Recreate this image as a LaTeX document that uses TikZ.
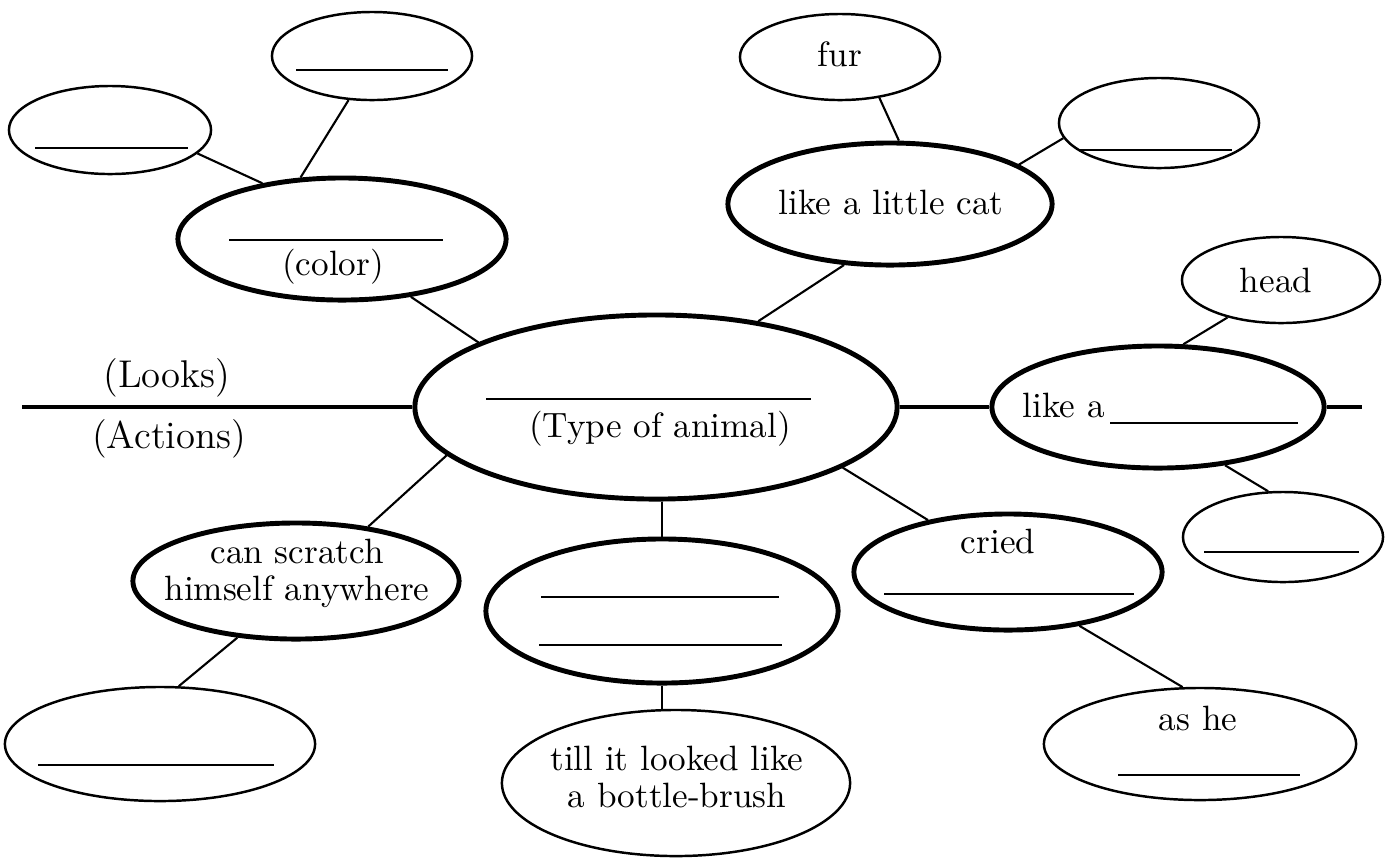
\documentclass[tikz,border=0pt]{standalone}
\usetikzlibrary{shapes.geometric,positioning}

\begin{document}
\begin{tikzpicture}[x=0.01cm,y=-0.01cm,
    bubble/.style={ellipse, draw, line width=0.7pt, inner sep=0pt},
    bold bubble/.style={bubble, line width=1.4pt},
    wh/.style 2 args={minimum width=#1cm, minimum height=#2cm},
    link/.style={line width=0.6pt},
    blank/.style={line width=0.7pt},
    divider/.style={line width=1.4pt},
    words/.style={font=\fontsize{10}{10.5}\selectfont, align=center, inner sep=0pt, anchor=base},
    side/.style={font=\fontsize{11}{13}\selectfont, inner sep=0pt, anchor=base}]
    \useasboundingbox (0,0) rectangle (1388,859);

    \node[bold bubble, wh={4.82}{1.84}] (animal) at (656,407) {};
    \node[bold bubble, wh={3.28}{1.22}] (col) at (342,239) {};
    \node[bold bubble, wh={3.24}{1.22}] (cat) at (890,204) {};
    \node[bold bubble, wh={3.32}{1.22}] (likea) at (1158,407) {};
    \node[bold bubble, wh={3.08}{1.16}] (cried) at (1008,572) {};
    \node[bold bubble, wh={3.52}{1.44}] (midb) at (662,611) {};
    \node[bold bubble, wh={3.26}{1.16}] (scratch) at (296,581) {};
    \node[bubble, wh={2.00}{0.88}] (tlb) at (372,56) {};
    \node[bubble, wh={2.02}{0.88}] (lb) at (110,130) {};
    \node[bubble, wh={2.00}{0.86}] (fur) at (840,57) {};
    \node[bubble, wh={2.00}{0.90}] (trb) at (1159,123) {};
    \node[bubble, wh={1.98}{0.86}] (head) at (1281,280) {};
    \node[bubble, wh={2.00}{0.90}] (brb) at (1283,537) {};
    \node[bubble, wh={3.12}{1.12}] (ashe) at (1200,744) {};
    \node[bubble, wh={3.48}{1.46}] (till) at (676,783) {};
    \node[bubble, wh={3.10}{1.14}] (blb) at (160,744) {};

    \coordinate (lend) at (22,407);
    \coordinate (rend) at (1362,407);
    \draw[divider] (lend) -- (animal.west);
    \draw[divider] (animal.east) -- (likea.west);
    \draw[divider] (likea.east) -- (rend);
    \node[side] (looks) at (167,387) {(Looks)};
    \node[side] (actions) at (169,448) {(Actions)};

    \draw[link] (tlb.242) -- (col.124);
    \draw[link] (lb.345) -- (col.145);
    \draw[link] (col.320) -- (animal.160);
    \draw[link] (animal.40) -- (cat.233);
    \draw[link] (cat.82) -- (fur.314);
    \draw[link] (cat.17) -- (trb.189);
    \draw[link] (likea.68) -- (head.215);
    \draw[link] (likea.319) -- (brb.108);
    \draw[link] (animal.342) -- (cried.147);
    \draw[link] (cried.323) -- (ashe.107);
    \draw[link] (midb.north |- animal.south) -- (midb.north);
    \draw[link] (midb.south) -- (midb.south |- till.north);
    \draw[link] (animal.193) -- (scratch.37);
    \draw[link] (scratch.224) -- (blb.72);

    \draw[blank] (486,399) -- (811,399);
    \node[words] (animaltxt) at (660,437) {(Type of animal)};
    \draw[blank] (229,240) -- (443,240);
    \node[words] (coltxt) at (333,275) {(color)};
    \draw[blank] (296,70) -- (448,70);
    \draw[blank] (35,148) -- (188,148);
    \node[words] (furtxt) at (840,66) {fur};
    \draw[blank] (1080,150) -- (1232,150);
    \node[words] (cattxt) at (891,214) {like a little cat};
    \node[words] (headtxt) at (1276,292) {head};
    \node[words, anchor=base west] (likeatxt) at (1022,417) {like a};
    \draw[blank] (1110,423) -- (1298,423);
    \draw[blank] (1204,552) -- (1359,552);
    \node[words] (criedtxt) at (998,553) {cried};
    \draw[blank] (884,594) -- (1134,594);
    \node[words] (ashetxt) at (1198,730) {as he};
    \draw[blank] (1118,775) -- (1300,775);
    \draw[blank] (541,597) -- (779,597);
    \draw[blank] (539,645) -- (782,645);
    \node[words, anchor=center] (tilltxt) at (677,777) {till it looked like\\a bottle-brush};
    \node[words, anchor=center] (scratchtxt) at (297,573) {can scratch\\himself anywhere};
    \draw[blank] (38,765) -- (274,765);
\end{tikzpicture}
\end{document}
